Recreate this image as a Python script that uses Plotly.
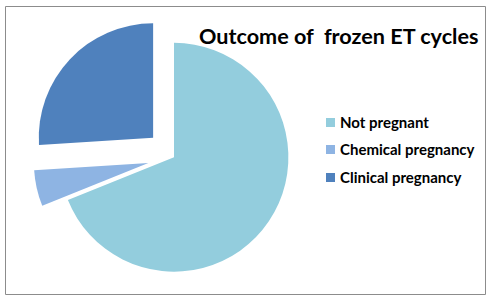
import plotly.graph_objects as go

labels = ["Not pregnant", "Chemical pregnancy", "Clinical pregnancy"]
values = [68.9, 5.1, 26.0]
pulls = [0.0, 0.23, 0.25]
colors = ["#93CDDD", "#8EB4E3", "#4F81BD"]
title_text = "Outcome of\u00a0 frozen ET cycles"

W, H = 494, 301
fig = go.Figure()
fig.add_trace(go.Pie(
    labels=labels, values=values, pull=pulls, sort=False,
    direction="clockwise", rotation=0,
    marker=dict(colors=colors, line=dict(width=0)),
    textinfo="none", hoverinfo="label+percent",
    domain=dict(x=[31/W, 317/W], y=[0.0, 0.955]),
    showlegend=False,
))

font_family = "Lato, 'Open Sans', sans-serif"
# border
fig.add_shape(type="rect", xref="paper", yref="paper",
              x0=5.5/W, x1=485.5/W, y0=1-294.5/H, y1=1-6.5/H,
              line=dict(color="#8c8c8c", width=1))
# title
fig.add_annotation(text="<b>" + title_text + "</b>", xref="paper", yref="paper",
                   x=480/W, y=1-36/H, xanchor="right", yanchor="middle",
                   showarrow=False, font=dict(family=font_family, size=21.6, color="black"))
# legend (manual)
ys = [122, 149, 177]
for lab, col, yy in zip(labels, colors, ys):
    fig.add_shape(type="rect", xref="paper", yref="paper",
                  x0=326/W, x1=335/W, y0=1-(yy+5)/H, y1=1-(yy-4)/H,
                  line=dict(width=0), fillcolor=col)
    fig.add_annotation(text="<b>" + lab + "</b>", xref="paper", yref="paper",
                       x=338/W, y=1-yy/H, xanchor="left", yanchor="middle",
                       showarrow=False, font=dict(family=font_family, size=15, color="black"))

fig.update_layout(width=W, height=H, margin=dict(l=0, r=0, t=0, b=0),
                  paper_bgcolor="white", plot_bgcolor="white")
fig.write_html("out.html")
